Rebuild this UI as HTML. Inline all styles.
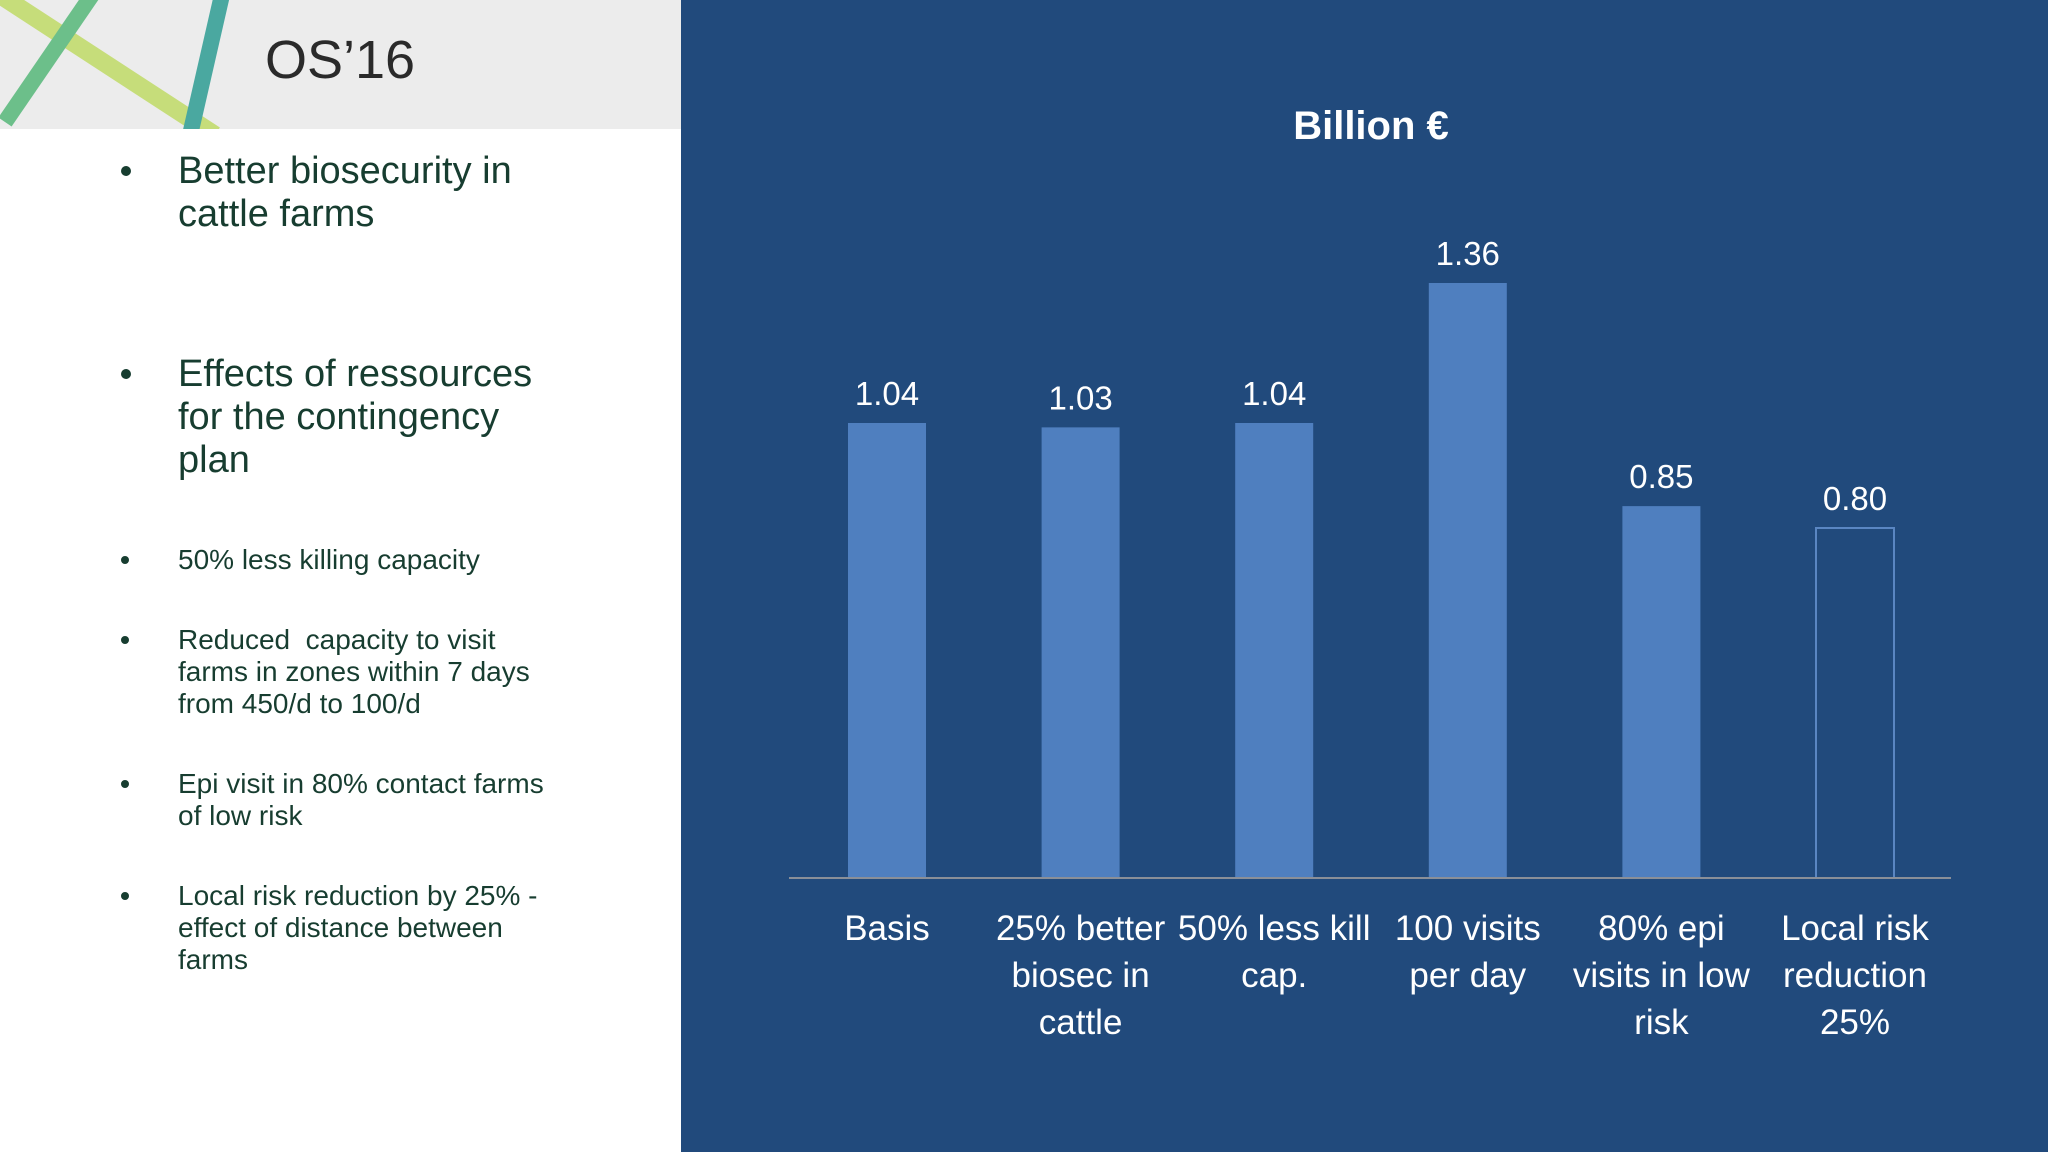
<!DOCTYPE html>
<html><head><meta charset="utf-8"><style>
body{margin:0;width:2048px;height:1152px;position:relative;overflow:hidden;background:#fff;font-family:"Liberation Sans","DejaVu Sans",sans-serif}
.hdr{position:absolute;left:0;top:0;width:681px;height:129px;background:#ececec;overflow:hidden}
.panel{position:absolute;left:681px;top:0;width:1367px;height:1152px;background:#214a7c}
.t{position:absolute;color:#173d30;white-space:nowrap}
.big{font-size:38px;line-height:43px}
.sm{font-size:28px;line-height:32px}
.dot{position:absolute;left:121px;width:10px;height:10px;border-radius:50%;background:#173d30}
</style></head><body>
<div class="hdr">
<svg width="681" height="129">
<line x1="0" y1="-5" x2="215" y2="135" stroke="#c6dd7a" stroke-width="18"/>
<line x1="92" y1="-5" x2="5" y2="122" stroke="#6cbf8a" stroke-width="16"/>
<line x1="222" y1="-5" x2="190" y2="135" stroke="#4aa8a0" stroke-width="16"/>
<text x="265" y="78" font-size="54" font-family="Liberation Sans, sans-serif" fill="#2a2a2a">OS’16</text>
</svg></div>
<div>
<div class="dot" style="top:166px"></div><div class="t big" style="left:178px;top:150px">Better biosecurity in<br>cattle farms</div>
<div class="dot" style="top:369px"></div><div class="t big" style="left:178px;top:353px">Effects of ressources<br>for the contingency<br>plan</div>
<div class="dot" style="top:556px;width:8px;height:8px"></div><div class="t sm" style="left:178px;top:544px">50% less killing capacity</div>
<div class="dot" style="top:636px;width:8px;height:8px"></div><div class="t sm" style="left:178px;top:624px">Reduced&nbsp; capacity to visit<br>farms in zones within 7 days<br>from 450/d to 100/d</div>
<div class="dot" style="top:780px;width:8px;height:8px"></div><div class="t sm" style="left:178px;top:768px">Epi visit in 80% contact farms<br>of low risk</div>
<div class="dot" style="top:892px;width:8px;height:8px"></div><div class="t sm" style="left:178px;top:880px">Local risk reduction by 25% -<br>effect of distance between<br>farms</div>
</div>
<div class="panel"></div>
<svg id="c" width="2048" height="1152" style="position:absolute;left:0;top:0"></svg>
<script>
const categories=[["Basis"],["25% better","biosec in","cattle"],["50% less kill","cap."],["100 visits","per day"],["80% epi","visits in low","risk"],["Local risk","reduction","25%"]];
const values=[1.04,1.03,1.04,1.36,0.85,0.80];
const labels=["1.04","1.03","1.04","1.36","0.85","0.80"];
const svg=document.getElementById('c');const NS='http://www.w3.org/2000/svg';
const base=878,scale=437.5,x0=887,step=193.6,bw=78;
const y=v=>base-v*scale, x=i=>x0+i*step;
function mk(t,a){const e=document.createElementNS(NS,t);for(const k in a)e.setAttribute(k,a[k]);svg.appendChild(e);return e;}
let t=mk('text',{x:1371,y:139,'text-anchor':'middle','font-size':40,'font-weight':'bold',fill:'#fff'});t.textContent='Billion €';


values.forEach((v,i)=>{
 const last=i===values.length-1;
 const r=mk('rect',{x:x(i)-bw/2,y:y(v),width:bw,height:v*scale,fill:last?'none':'#4f7fbf',stroke:last?'#5a86c2':'none','stroke-width':2});
 
 
 const l=mk('text',{x:x(i),y:y(v)-18,'text-anchor':'middle','font-size':33,fill:'#fff'});l.textContent=labels[i];
 
 
 categories[i].forEach((s,j)=>{const c=mk('text',{x:x(i),y:940+j*47,'text-anchor':'middle','font-size':35,fill:'#fff'});c.textContent=s;
 
 });
});
const ax=mk('line',{x1:789,x2:1951,y1:base,y2:base,stroke:'#8a8f98','stroke-width':2});


</script>
</body></html>
